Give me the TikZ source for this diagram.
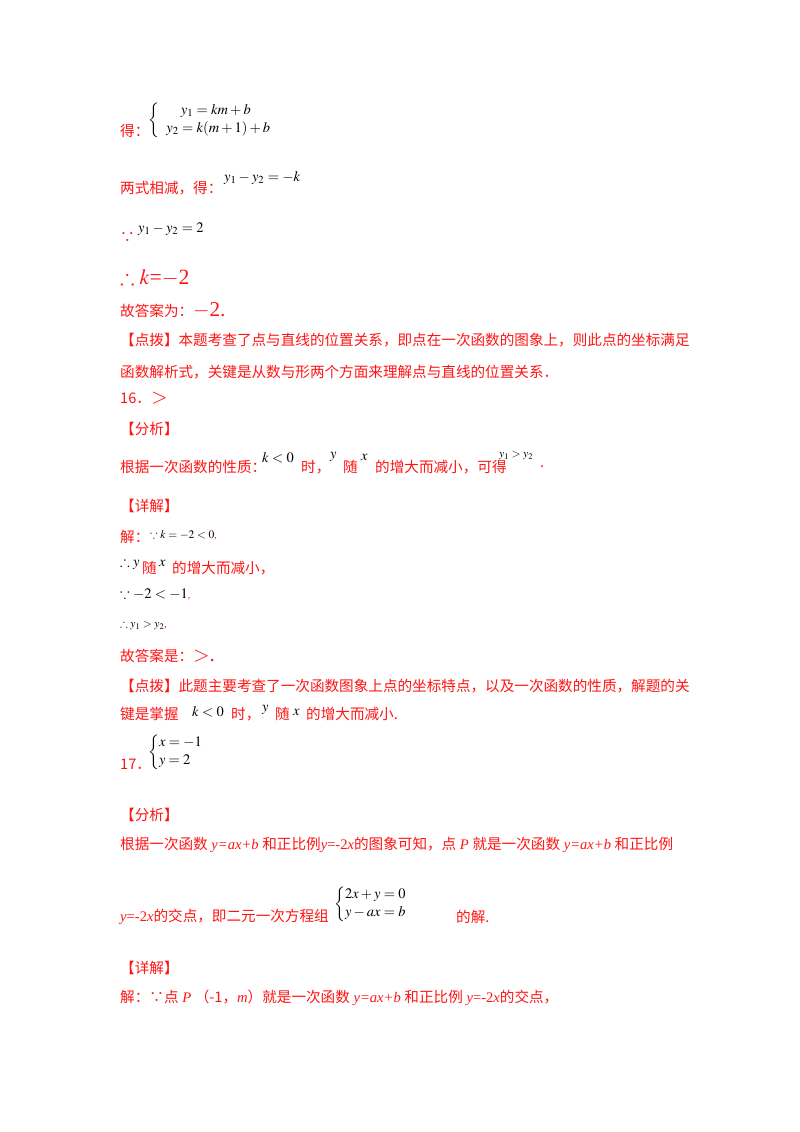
\documentclass[tikz,border=0pt]{standalone}
\usepackage{amsmath,amssymb}
\usepackage{mathptmx}
\usepackage{fontspec}
\setmainfont{Liberation Serif}
\newfontfamily\cjk{Noto Sans CJK SC}
\definecolor{rd}{RGB}{255,20,20}
\newcommand\Bm[1]{\scalebox{1.45}{#1}}
\newcommand\Sm[1]{\scalebox{1.15}{#1}}
\begin{document}
\begin{tikzpicture}[x=1pt,y=-1pt,
  t/.style={anchor=west,inner sep=0pt,text=rd,font=\cjk\fontsize{14.6}{18}\selectfont},
  m/.style={anchor=west,inner sep=0pt,text=black},
  ms/.style={anchor=west,inner sep=0pt,text=black}]
\useasboundingbox (0,0) rectangle (800,1132);
\node[t] (a1) at (120,131) {得：};
\node[m] (s1) at (148,120) {\Bm{$\left\{\begin{array}{l}\quad y_1=km+b\\ y_2=k(m+1)+b\end{array}\right.$}};
\node[t] (a2) at (120,188) {两式相减，得：};
\node[m] (a2m) at (224,178) {\Bm{$y_1-y_2=-k$}};
\node[t] (a3) at (120,238) {∵};
\node[m] (a3m) at (138,229) {\Bm{$y_1-y_2=2$}};
\node[t,font=\fontsize{15}{18}\selectfont] (a4) at (120,278) {\Bm{$\therefore k$=$-$2}};
\node[t] (a5) at (120,310) {故答案为：\normalfont\Bm{$-$2.}};
\node[t] (a6) at (120,340) {【点拨】本题考查了点与直线的位置关系，即点在一次函数的图象上，则此点的坐标满足};
\node[t] (a7) at (120,372) {函数解析式，关键是从数与形两个方面来理解点与直线的位置关系．};
\node[t] (a8) at (120,398) {16．\normalfont\Bm{$>$}};
\node[t] (a9) at (120,429) {【分析】};
\node[t] (b1) at (120,467) {根据一次函数的性质：};
\node[m] (b1a) at (262,458) {\Bm{$k<0$}};
\node[t] (b1b) at (301,467) {时，};
\node[m] (b1c) at (330,457) {\Bm{$y$}};
\node[t] (b1d) at (343,467) {随};
\node[m] (b1e) at (361,457) {\Bm{$x$}};
\node[t] (b1f) at (375,467) {的增大而减小，可得};
\node[ms] (b1g) at (499,456) {\Sm{$y_1>y_2$}};
\node[t] (b1h) at (540,467) {.};
\node[t] (b2) at (120,506) {【详解】};
\node[t] (b3) at (120,537) {解：};
\node[ms] (b3m) at (150,535) {\Sm{$\because k=-2<0$}\textcolor{rd}{,}};
\node[ms] (b4m) at (120,563) {\Bm{$\therefore y$}};
\node[t] (b4) at (142,568) {随};
\node[ms] (b4x) at (159,563) {\Bm{$x$}};
\node[t] (b4b) at (172,568) {的增大而减小，};
\node[ms] (b5) at (120,594) {\Bm{$\because -2<-1$}\textcolor{rd}{,}};
\node[ms] (b6) at (120,625) {\Sm{$\therefore y_1>y_2$}\textcolor{rd}{,}};
\node[t] (b7) at (120,656) {故答案是：\normalfont\Bm{$>$.}};
\node[t] (b8) at (120,686) {【点拨】此题主要考查了一次函数图象上点的坐标特点，以及一次函数的性质，解题的关};
\node[t] (b9) at (120,714) {键是掌握};
\node[m] (b9a) at (192,712) {\Bm{$k<0$}};
\node[t] (b9b) at (231,714) {时，};
\node[m] (b9c) at (262,710) {\Bm{$y$}};
\node[t] (b9d) at (275,714) {随};
\node[m] (b9e) at (293,712) {\Bm{$x$}};
\node[t] (b9f) at (306,714) {的增大而减小.};
\node[t] (c1) at (120,764) {17．};
\node[m] (c1m) at (148,752) {\Bm{$\left\{\begin{array}{@{}l}x=-1\\ y=2\end{array}\right.$}};
\node[t] (c2) at (120,815) {【分析】};
\node[t] (c3) at (120,845) {根据一次函数\normalfont\textit{ y=ax+b }\cjk 和正比例\normalfont\textit{y}=-2\textit{x}\cjk 的图象可知，点\normalfont\textit{ P }\cjk 就是一次函数\normalfont\textit{ y=ax+b }\cjk 和正比例};
\node[t] (c4) at (120,917) {\normalfont\textit{y}=-2\textit{x}\cjk 的交点，即二元一次方程组};
\node[m] (c4m) at (334,904) {\Bm{$\left\{\begin{array}{@{}l}2x+y=0\\ y-ax=b\end{array}\right.$}};
\node[t] (c4b) at (456,917) {的解.};
\node[t] (c5) at (120,968) {【详解】};
\node[t] (c6) at (120,998) {解：∵点\normalfont\textit{ P }\cjk（-1，\normalfont\textit{m}\cjk）就是一次函数\normalfont\textit{ y=ax+b }\cjk 和正比例\normalfont\textit{ y}=-2\textit{x}\cjk 的交点，};
\end{tikzpicture}
\end{document}
